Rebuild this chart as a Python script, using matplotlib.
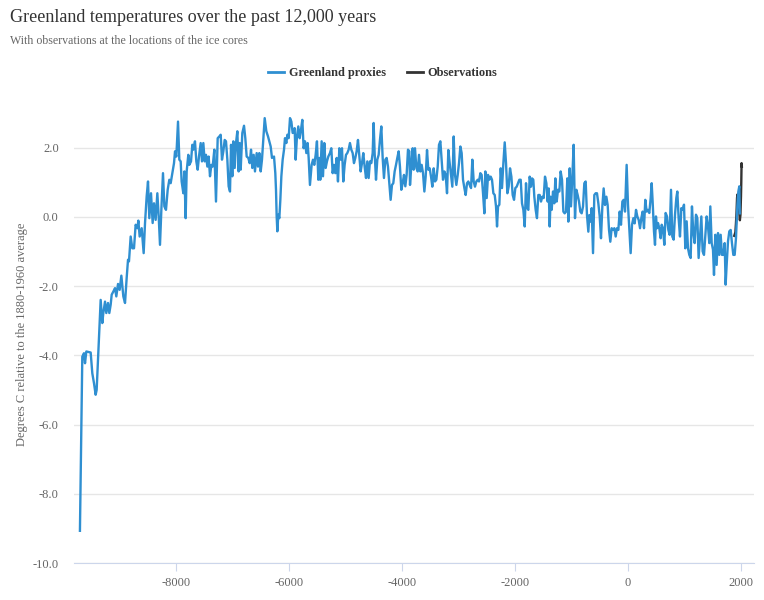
import matplotlib
matplotlib.use('Agg')
import matplotlib.pyplot as plt
from matplotlib.lines import Line2D

# Greenland proxy temperatures (year, deg C relative to 1880-1960)
proxy_years = [
    -9700, -9658, -9628, -9610, -9587, -9510, -9481, -9451, -9422, -9404,
    -9333, -9304, -9286, -9256, -9233, -9203, -9180, -9156, -9138, -9109,
    -9079, -9056, -9026, -8997, -8967, -8932, -8902, -8873, -8849, -8832,
    -8802, -8773, -8743, -8714, -8684, -8666, -8643, -8607, -8572, -8548,
    -8519, -8495, -8472, -8442, -8413, -8389, -8360, -8330, -8306, -8283,
    -8259, -8230, -8206, -8177, -8147, -8118, -8094, -8059, -8035, -8017,
    -7994, -7964, -7941, -7917, -7900, -7870, -7852, -7829, -7811, -7782,
    -7764, -7734, -7711, -7693, -7664, -7640, -7616, -7593, -7563, -7540,
    -7516, -7492, -7469, -7445, -7422, -7398, -7374, -7351, -7321, -7292,
    -7262, -7233, -7209, -7186, -7162, -7138, -7115, -7091, -7068, -7044,
    -7026, -7003, -6985, -6961, -6938, -6914, -6891, -6873, -6855, -6826,
    -6796, -6773, -6749, -6720, -6696, -6672, -6649, -6625, -6602, -6572,
    -6548, -6525, -6501, -6478, -6454, -6430, -6401, -6371, -6348, -6324,
    -6301, -6265, -6242, -6230, -6218, -6206, -6189, -6171, -6153, -6135,
    -6112, -6088, -6071, -6047, -6029, -6006, -5982, -5958, -5935, -5900,
    -5882, -5859, -5835, -5811, -5788, -5764, -5741, -5717, -5693, -5670,
    -5652, -5629, -5599, -5575, -5552, -5528, -5505, -5481, -5463, -5446,
    -5422, -5398, -5375, -5351, -5328, -5304, -5275, -5251, -5227, -5204,
    -5180, -5156, -5133, -5109, -5086, -5062, -5039, -5015, -4991, -4968,
    -4944, -4921, -4897, -4873, -4850, -4826, -4803, -4779, -4755, -4732,
    -4708, -4685, -4661, -4637, -4614, -4590, -4567, -4543, -4519, -4502,
    -4484, -4460, -4437, -4413, -4390, -4366, -4342, -4319, -4295, -4272,
    -4248, -4224, -4201, -4177, -4154, -4130, -4106, -4083, -4059, -4036,
    -4012, -3988, -3965, -3941, -3918, -3894, -3870, -3858, -3834, -3811,
    -3793, -3770, -3746, -3722, -3699, -3675, -3652, -3628, -3604, -3581,
    -3557, -3534, -3510, -3486, -3463, -3439, -3416, -3392, -3368, -3345,
    -3321, -3298, -3274, -3250, -3227, -3203, -3180, -3156, -3132, -3109,
    -3085, -3062, -3038, -3014, -2991, -2967, -2944, -2920, -2896, -2873,
    -2849, -2826, -2802, -2778, -2755, -2731, -2708, -2684, -2660, -2637,
    -2613, -2590, -2566, -2542, -2525, -2501, -2477, -2454, -2430, -2407,
    -2383, -2359, -2336, -2318, -2300, -2277, -2253, -2230, -2206, -2182,
    -2159, -2135, -2112, -2088, -2064, -2041, -2017, -1994, -1970, -1946,
    -1923, -1899, -1876, -1852, -1828, -1805, -1782, -1764, -1740, -1717,
    -1699, -1676, -1658, -1634, -1611, -1587, -1563, -1540, -1516, -1493,
    -1469, -1445, -1422, -1404, -1386, -1369, -1351, -1327, -1304, -1286,
    -1262, -1239, -1215, -1192, -1168, -1144, -1121, -1097, -1074, -1056,
    -1032, -1009, -985, -962, -938, -914, -891, -867, -844, -820,
    -796, -773, -749, -726, -702, -684, -661, -643, -619, -596,
    -572, -549, -525, -501, -478, -454, -431, -407, -383, -360,
    -336, -313, -289, -265, -242, -218, -195, -171, -147, -124,
    -100, -77, -53, -24, 0, 24, 47, 71, 95, 118,
    142, 165, 189, 213, 236, 259, 283, 306, 330, 354,
    377, 401, 419, 436, 460, 478, 495, 513, 531, 554,
    578, 596, 619, 643, 666, 690, 714, 737, 761, 784,
    808, 832, 855, 873, 896, 920, 944, 967, 991, 1014,
    1038, 1062, 1085, 1109, 1132, 1156, 1180, 1203, 1227, 1250,
    1274, 1298, 1321, 1345, 1368, 1392, 1416, 1439, 1457, 1481,
    1504, 1522, 1545, 1569, 1593, 1616, 1640, 1663, 1687, 1711,
    1728, 1746, 1770, 1793, 1817, 1840, 1864, 1888, 1911, 1935,
    1953, 1970, 1978,
]
proxy_temps = [
    -9.07, -4.04, -3.94, -4.23, -3.89, -3.92, -4.52, -4.81, -5.14, -5.00,
    -2.40, -3.07, -2.78, -2.45, -2.78, -2.49, -2.78, -2.54, -2.25, -2.16,
    -2.06, -2.30, -1.94, -2.11, -1.70, -2.30, -2.49, -1.77, -1.24, -1.29,
    -0.57, -0.91, -0.91, -0.23, -0.33, -0.11, -0.57, -0.33, -1.05, -0.18,
    0.59, 1.02, -0.04, 0.68, -0.18, 0.39, -0.09, 0.68, 0.01, -0.81,
    0.20, 1.26, 0.30, 0.20, 0.78, 1.07, 0.97, 1.31, 1.55, 1.89,
    1.74, 2.75, 1.65, 1.60, 1.02, 0.68, 1.31, -0.04, 1.31, 1.79,
    1.50, 1.60, 2.08, 1.94, 2.18, 1.60, 1.36, 1.74, 2.13, 1.60,
    2.13, 1.60, 1.79, 1.45, 1.74, 1.17, 1.50, 1.45, 1.94, 0.44,
    2.27, 2.32, 2.37, 1.65, 1.89, 2.22, 2.18, 1.65, 0.88, 0.73,
    2.08, 1.17, 2.18, 1.41, 2.13, 2.47, 1.31, 2.13, 1.36, 2.42,
    2.63, 2.27, 1.74, 1.70, 1.55, 1.94, 1.41, 1.79, 1.31, 1.84,
    1.45, 1.84, 1.31, 1.65, 2.27, 2.85, 2.47, 2.32, 2.18, 2.03,
    1.70, 1.74, 1.26, 0.78, 0.01, -0.42, 0.06, -0.04, 0.49, 1.17,
    1.65, 1.94, 2.27, 2.13, 2.37, 2.27, 2.85, 2.75, 2.42, 2.56,
    1.65, 2.32, 2.61, 2.27, 2.51, 2.80, 1.98, 2.18, 1.84, 2.13,
    1.70, 0.92, 1.50, 1.65, 1.50, 1.79, 2.18, 1.07, 1.70, 1.07,
    2.18, 1.17, 2.13, 1.41, 1.60, 1.74, 1.84, 1.98, 1.26, 1.50,
    1.26, 1.70, 1.02, 1.98, 1.65, 1.98, 1.02, 1.50, 1.79, 1.84,
    1.94, 2.13, 1.94, 1.84, 1.55, 1.70, 1.89, 2.22, 1.74, 1.31,
    1.55, 1.84, 1.45, 1.12, 1.60, 1.12, 1.60, 1.55, 1.84, 2.71,
    1.84, 1.07, 1.65, 1.79, 2.22, 2.61, 1.70, 1.12, 1.65, 1.70,
    1.45, 0.97, 0.49, 0.92, 0.97, 1.31, 1.50, 1.70, 1.89, 1.45,
    0.78, 0.97, 1.21, 0.88, 1.21, 1.94, 1.89, 0.92, 1.50, 1.98,
    1.36, 1.98, 1.41, 1.31, 1.79, 1.31, 1.50, 1.26, 0.73, 1.16,
    1.93, 1.36, 1.40, 1.16, 0.87, 1.40, 1.02, 1.07, 1.45, 2.08,
    2.18, 1.65, 1.07, 1.31, 1.21, 0.68, 1.93, 1.55, 1.21, 0.87,
    2.32, 1.21, 0.92, 1.21, 1.55, 2.03, 1.84, 1.07, 0.83, 0.63,
    0.97, 1.02, 0.92, 0.83, 1.65, 1.02, 0.87, 1.02, 1.07, 1.02,
    1.26, 1.21, 0.68, 0.10, 1.31, 0.54, 1.21, 1.07, 1.16, 1.07,
    0.68, 0.63, 0.30, -0.28, 0.30, 0.35, 1.40, 0.83, 1.55, 2.15,
    1.55, 0.68, 0.87, 1.40, 1.16, 0.63, 0.49, 0.83, 0.87, 0.97,
    1.07, 1.07, 0.39, 0.20, -0.28, 0.97, 0.25, 0.20, 1.16, 0.87,
    1.11, 1.07, 0.58, 0.20, -0.04, 0.63, 0.63, 0.44, 0.58, 0.54,
    1.16, 0.97, 0.44, 0.82, -0.28, 0.58, 0.20, 0.73, 0.39, 1.11,
    0.44, 0.78, 0.73, 1.31, 1.07, 0.15, 0.10, 0.15, 1.11, -0.14,
    1.40, 0.30, 1.16, 2.08, -0.04, 0.78, 0.63, 0.44, 0.15, 0.10,
    0.30, 0.97, 1.02, 0.05, -0.43, 0.05, -0.14, 0.25, -1.05, 0.63,
    0.68, 0.68, 0.39, 0.01, -0.62, 0.30, 0.82, 0.34, 0.58, 0.34,
    -0.38, -0.72, -0.33, -0.38, -0.33, -0.57, -0.33, -0.38, 0.15, -0.23,
    0.44, 0.49, 0.15, 1.50, 0.34, -0.38, -1.05, -0.23, -0.04, -0.19,
    0.20, 0.01, -0.09, -0.33, -0.04, 0.15, -0.33, 0.49, 0.15, 0.20,
    0.11, 0.54, 0.97, 0.44, -0.42, -0.81, 0.01, -0.33, -0.18, -0.33,
    -0.62, -0.23, -0.33, -0.81, 0.11, 0.01, -0.38, -0.52, 0.78, -0.57,
    -0.66, 0.06, 0.54, 0.73, -0.04, -0.57, 0.25, 0.20, 0.35, -0.91,
    -0.13, -0.91, -1.10, -1.19, 0.30, -0.47, -0.76, 0.06, -0.04, -1.19,
    -0.57, 0.01, -1.00, -1.10, -0.57, 0.01, -0.28, -0.76, 0.30, -0.76,
    -0.95, -1.68, -0.52, -1.39, -0.47, -1.10, -0.52, -1.10, -1.10, -0.76,
    -1.96, -1.39, -0.71, -0.42, -0.38, -0.76, -1.10, -1.10, -0.62, 0.30,
    0.73, 0.88, 0.10,
]

# Observations at the ice core locations
obs_years = [1880, 1890, 1900, 1910, 1920, 1930, 1940, 1950, 1960, 1970,
             1980, 1990, 2000, 2005, 2010, 2015]
obs_temps = [-0.55, -0.50, -0.45, -0.20, 0.10, 0.55, 0.65, 0.50, 0.35, 0.10,
             -0.10, 0.05, 0.60, 1.00, 1.55, 1.45]

color_proxy = '#2f8fd1'
color_obs = '#333333'
serif = ['Liberation Serif', 'DejaVu Serif']

plt.rcParams['font.family'] = serif
plt.rcParams['axes.unicode_minus'] = False

fig = plt.figure(figsize=(7.64, 6.0), dpi=100)
ax = fig.add_axes([74/764, 1-563/600, 680/764, (563-106)/600])

ax.plot(obs_years, obs_temps, color=color_obs, lw=1.7, zorder=2)
ax.plot(proxy_years, proxy_temps, color=color_proxy, lw=1.7, zorder=3,
        solid_joinstyle='round')

ax.set_xlim(-9805, 2230)
ax.set_ylim(-10, 3.2)
ax.set_yticks(range(-10, 3, 2))
ax.set_yticklabels(['%.1f' % v for v in range(-10, 3, 2)])
ax.set_xticks(range(-8000, 2001, 2000))
ax.set_xticklabels([str(v) for v in range(-8000, 2001, 2000)])

ax.grid(axis='y', color='#e6e6e6', lw=1)
ax.set_axisbelow(True)
for s in ['top', 'right', 'left']:
    ax.spines[s].set_visible(False)
ax.spines['bottom'].set_color('#ccd6eb')
ax.spines['bottom'].set_zorder(1)
ax.tick_params(axis='y', length=0, pad=11, labelsize=9, labelcolor='#666666')
ax.tick_params(axis='x', length=6, color='#ccd6eb', pad=4, labelsize=9,
               labelcolor='#666666')

ax.set_ylabel('Degrees C relative to the 1880-1960 average', fontsize=9,
              color='#666666')
ax.yaxis.set_label_coords(-0.067, 0.5)

fig.text(10/764, 1-18/600, 'Greenland temperatures over the past 12,000 years',
         fontsize=13, color='#333333', va='center', ha='left')
fig.text(10/764, 1-41/600, 'With observations at the locations of the ice cores',
         fontsize=8.6, color='#666666', va='center', ha='left')

handles = [Line2D([], [], color=color_proxy, lw=2),
           Line2D([], [], color=color_obs, lw=2)]
fig.legend(handles, ['Greenland proxies', 'Observations'], ncol=2,
           loc='center', bbox_to_anchor=(383/764, 1-73/600), frameon=False,
           prop={'family': serif, 'weight': 'bold', 'size': 8.8},
           handlelength=1.3, handletextpad=0.4, columnspacing=1.7,
           labelcolor='#333333')

fig.savefig('out.png', dpi=100, facecolor='white')
